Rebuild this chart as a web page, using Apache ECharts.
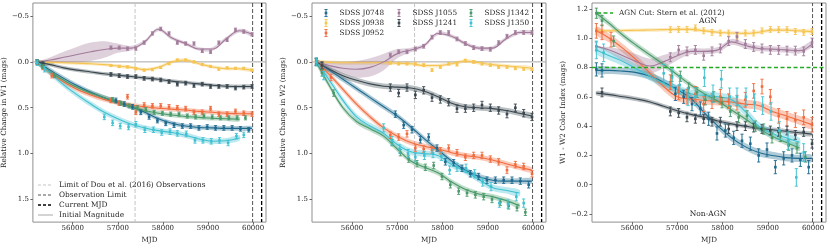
<!DOCTYPE html>
<html><head><meta charset="utf-8">
<script src="https://cdn.jsdelivr.net/npm/echarts@6/dist/echarts.min.js"></script>
<style>html,body{margin:0;padding:0;background:#fff}#c{width:830px;height:249px}</style>
</head><body><div id="c"></div>
<script>
const FONT = 'DejaVu Serif';
const NAMES = ['SDSS J0748','SDSS J0938','SDSS J0952','SDSS J1055','SDSS J1241','SDSS J1342','SDSS J1350'];
const COLORS = ['#1d6a8e','#f6c451','#f26b3d','#a27a9a','#3a474f','#4a9a69','#3fc1d1'];

// observation epochs (MJD) per object
const mjd_J0748 = [55212,55337,56958,57142,57326,57510,57694,57878,58063,58247,58431,58615,58799,58983,59168,59352,59536,59720,59904];
const mjd_J0938 = [55212,56847,57031,57215,57400,57584,57768,57952,58136,58320,58505,58689,58873,59057,59241,59425,59610,59794,59978];
const mjd_J0952 = [55212,55337,55536,56847,57031,57215,57400,57584,57768,57952,58136,58320,58505,58689,58873,59057,59241,59425,59610,59794,59978];
const mjd_J1055 = [55212,56847,57031,57215,57400,57584,57768,57952,58136,58320,58505,58689,58873,59057,59241,59425,59610,59794,59978];
const mjd_J1241 = [55212,55337,56847,57031,57215,57400,57584,57768,57952,58136,58320,58505,58689,58873,59057,59241,59425,59610,59794,59978];
const mjd_J1342 = [55212,55337,55595,56884,57068,57252,57436,57621,57805,57989,58173,58357,58541,58726,58910,59094,59278,59462,59646,59831];
const mjd_J1350 = [55212,55374,56700,56884,57053,57238,57400,57599,57790,57974,58158,58320,58519,58711,58888,59072,59256,59447,59631,59794];

// Relative change in W1
const w1_J0748 = [0.0,0.03,0.42,0.46,0.49,0.55,0.60,0.64,0.67,0.69,0.70,0.70,0.72,0.71,0.72,0.72,0.72,0.73,0.74];
const w1_J0938 = [0.0,0.04,0.05,0.055,0.075,0.09,0.085,0.06,0.02,-0.02,-0.02,0.0,0.03,0.05,0.08,0.065,0.07,0.07,0.09];
const w1_J0952 = [0.0,0.06,0.15,0.42,0.45,0.38,0.55,0.47,0.48,0.48,0.49,0.50,0.51,0.55,0.55,0.51,0.57,0.57,0.54,0.56,0.57];
const w1_J1055 = [0.0,-0.155,-0.155,-0.145,-0.145,-0.21,-0.31,-0.36,-0.31,-0.21,-0.2,-0.2,-0.12,-0.11,-0.21,-0.24,-0.35,-0.33,-0.3];
const w1_J1241 = [0.0,0.02,0.137,0.15,0.16,0.16,0.18,0.187,0.197,0.215,0.243,0.232,0.257,0.243,0.268,0.268,0.268,0.285,0.275,0.268];
const w1_J1342 = [0.0,0.05,0.15,0.41,0.45,0.48,0.50,0.52,0.55,0.56,0.57,0.57,0.59,0.60,0.59,0.60,0.61,0.61,0.61,0.61];
const w1_J1350 = [0.01,0.08,0.60,0.665,0.70,0.71,0.68,0.74,0.74,0.77,0.76,0.78,0.785,0.856,0.856,0.866,0.856,0.884,0.81,0.796];

// Relative change in W2
const w2_J0748 = [0.0,0.04,0.57,0.69,0.74,0.85,0.82,0.94,1.09,1.10,1.16,1.22,1.25,1.29,1.29,1.29,1.29,1.30,1.34];
const w2_J0938 = [0.0,0.01,0.02,0.02,0.02,0.035,0.09,0.056,0.02,0.03,-0.014,0.0,0.02,0.035,0.056,0.056,0.07,0.077,0.08];
const w2_J0952 = [0.0,0.06,0.17,0.80,0.82,0.785,0.94,0.95,0.96,0.97,0.94,0.99,1.04,1.02,1.02,1.06,1.09,1.18,1.12,1.14,1.22];
const w2_J1055 = [0.0,-0.074,-0.11,-0.11,-0.14,-0.17,-0.27,-0.32,-0.32,-0.25,-0.2,-0.155,-0.145,-0.137,-0.21,-0.28,-0.32,-0.32,-0.32];
const w2_J1241 = [0.0,0.04,0.28,0.34,0.28,0.36,0.31,0.39,0.41,0.44,0.51,0.51,0.50,0.47,0.50,0.53,0.57,0.50,0.56,0.60];
const w2_J1342 = [0.0,0.12,0.34,0.88,0.99,1.06,1.11,1.15,1.13,1.25,1.34,1.41,1.43,1.45,1.47,1.50,1.53,1.57,1.59,1.64];
const w2_J1350 = [0.0,0.15,0.72,0.86,0.95,1.00,1.04,1.02,1.00,1.03,1.18,1.15,1.16,1.22,1.31,1.36,1.54,1.55,1.47,1.54];

// W1 - W2 colour index
const c_J0748 = [0.787,0.78,0.62,0.60,0.55,0.52,0.45,0.35,0.37,0.32,0.30,0.28,0.20,0.24,0.12,0.18,0.20,0.17,0.12];
const c_J0938 = [1.047,1.058,1.06,1.06,1.07,1.05,1.04,1.035,1.035,1.015,1.035,1.035,1.05,1.06,1.058,1.058,1.045,1.04,1.045];
const c_J0952 = [1.05,1.04,0.99,0.70,0.63,0.60,0.62,0.55,0.57,0.60,0.57,0.56,0.58,0.64,0.67,0.60,0.47,0.45,0.44,0.46,0.41];
const c_J1055 = [0.944,0.87,0.92,0.91,0.92,0.88,0.91,0.93,0.98,1.01,0.96,0.94,0.93,0.92,0.92,0.915,0.915,0.91,0.97];
const c_J1241 = [null,0.63,0.50,0.49,0.46,0.45,0.45,0.43,0.43,0.38,0.40,0.40,0.39,0.38,0.37,0.36,0.37,0.34,0.36,0.28];
const c_J1342 = [1.17,1.12,0.98,0.74,0.74,0.66,0.63,0.58,0.60,0.56,0.50,0.46,0.47,0.40,0.38,0.32,0.33,0.27,0.25,0.19];
const c_J1350 = [0.92,0.90,0.76,0.73,0.68,0.60,0.60,0.73,0.62,0.72,0.60,0.60,0.60,0.56,0.54,0.50,0.37,0.30,0.05,0.22];

// measurement uncertainties (per object)
const errW1 = [0.025,0.012,0.025,0.018,0.02,0.022,0.03];
const errW2 = [0.035,0.015,0.035,0.02,0.04,0.035,0.045];
const errC  = [0.045,0.02,0.05,0.03,0.03,0.035,0.06];

// fitted trend (read at these MJD nodes)
const FIT_MJD = [55212,55500,55800,56100,56400,56700,57000,57300,57600,57900,58200,58500,58800,59100,59400,59700,59975];
const f1_J0748 = [0,0.09,0.18,0.26,0.33,0.39,0.44,0.49,0.55,0.62,0.67,0.70,0.715,0.72,0.725,0.725,0.725];
const f1_J0938 = [0,0.005,0.01,0.015,0.02,0.03,0.045,0.06,0.085,0.06,0.0,-0.02,0.02,0.055,0.074,0.075,0.09];
const f1_J0952 = [0,0.12,0.22,0.30,0.36,0.41,0.445,0.47,0.49,0.505,0.515,0.525,0.54,0.55,0.56,0.565,0.565];
const f1_J1055 = [0,-0.02,-0.05,-0.08,-0.11,-0.135,-0.15,-0.15,-0.22,-0.355,-0.26,-0.2,-0.14,-0.14,-0.25,-0.34,-0.3];
const f1_J1241 = [0,0.03,0.065,0.09,0.11,0.13,0.145,0.16,0.175,0.19,0.21,0.225,0.24,0.255,0.265,0.268,0.268];
const f1_J1342 = [0,0.11,0.2,0.28,0.34,0.39,0.44,0.49,0.53,0.56,0.58,0.595,0.605,0.615,0.62,0.625,null];
const f1_J1350 = [0,0.12,0.25,0.36,0.46,0.55,0.62,0.68,0.72,0.75,0.77,0.8,0.84,0.865,0.86,0.83,null];

const f2_J0748 = [0,0.09,0.19,0.29,0.39,0.49,0.59,0.71,0.84,0.96,1.08,1.18,1.25,1.29,1.30,1.30,1.30];
const f2_J0938 = [0,0.005,0.01,0.01,0.01,0.01,0.015,0.02,0.04,0.04,0.02,-0.01,0.01,0.03,0.045,0.055,0.07];
const f2_J0952 = [0,0.14,0.30,0.46,0.60,0.72,0.81,0.88,0.92,0.95,0.99,1.02,1.04,1.07,1.11,1.15,1.18];
const f2_J1055 = [0,0.04,0.07,0.08,0.06,0.0,-0.09,-0.13,-0.18,-0.31,-0.28,-0.2,-0.15,-0.15,-0.25,-0.32,-0.32];
const f2_J1241 = [0,0.08,0.15,0.2,0.24,0.265,0.275,0.285,0.32,0.38,0.45,0.49,0.5,0.51,0.53,0.56,0.59];
const f2_J1342 = [0,0.26,0.5,0.65,0.73,0.81,0.95,1.08,1.15,1.21,1.31,1.39,1.44,1.47,1.51,1.57,null];
const f2_J1350 = [0,0.2,0.42,0.6,0.7,0.78,0.9,0.98,1.0,1.02,1.12,1.19,1.28,1.37,1.40,1.43,null];

const fc_J0748 = [0.78,0.78,0.775,0.765,0.74,0.70,0.65,0.59,0.49,0.40,0.32,0.26,0.22,0.20,0.185,0.18,0.18];
const fc_J0938 = [1.05,1.05,1.052,1.054,1.056,1.058,1.06,1.06,1.05,1.04,1.035,1.033,1.04,1.055,1.055,1.05,1.045];
const fc_J0952 = [1.05,1.0,0.93,0.85,0.76,0.67,0.60,0.585,0.575,0.57,0.565,0.55,0.54,0.50,0.47,0.44,0.41];
const fc_J1055 = [0.944,0.92,0.88,0.84,0.81,0.84,0.88,0.91,0.91,0.92,0.975,0.95,0.93,0.925,0.92,0.915,0.96];
const fc_J1241 = [0.625,0.615,0.6,0.585,0.565,0.535,0.505,0.48,0.46,0.435,0.415,0.4,0.385,0.375,0.365,0.355,0.345];
const fc_J1342 = [1.17,1.1,1.02,0.95,0.885,0.82,0.75,0.68,0.62,0.57,0.51,0.45,0.385,0.33,0.29,0.25,null];
const fc_J1350 = [0.92,0.88,0.84,0.79,0.74,0.69,0.65,0.62,0.61,0.60,0.58,0.5,0.4,0.35,0.32,0.29,null];

// fit uncertainty half-widths
const bandW1 = [0.025,0.018,0.025,0.02,0.02,0.025,0.03];
const bandW2 = [0.03,0.02,0.03,0.02,0.03,0.03,0.035];
const bandC  = [0.025,0.012,0.03,0.02,0.015,0.02,0.03];
const band1055_W1 = [0,0.03,0.06,0.085,0.1,0.09,0.05,0.025,0.02,0.02,0.02,0.02,0.02,0.02,0.02,0.02,0.02];
const band1055_W2 = [0,0.03,0.06,0.09,0.1,0.09,0.05,0.025,0.02,0.02,0.02,0.02,0.02,0.02,0.02,0.02,0.02];
const band1055_C  = [0,0.02,0.04,0.05,0.05,0.045,0.03,0.02,0.02,0.02,0.02,0.02,0.02,0.02,0.02,0.02,0.02];

// reference markers
const DOU_LIMIT = 57383, OBS_LIMIT = 59990, CURRENT_MJD = 60190, INITIAL_MAG = 0, AGN_CUT = 0.8;
const X_RANGE = [55116, 60287];
const Y_RANGE_W = [-0.642, 1.747];
const Y_RANGE_C = [-0.255, 1.240];

const EPOCHS = [mjd_J0748,mjd_J0938,mjd_J0952,mjd_J1055,mjd_J1241,mjd_J1342,mjd_J1350];
const PANELS = [
  {vals:[w1_J0748,w1_J0938,w1_J0952,w1_J1055,w1_J1241,w1_J1342,w1_J1350], fits:[f1_J0748,f1_J0938,f1_J0952,f1_J1055,f1_J1241,f1_J1342,f1_J1350], err:errW1, band:bandW1, band1055:band1055_W1, yr:Y_RANGE_W, inv:true, name:'Relative Change in W1 (mags)'},
  {vals:[w2_J0748,w2_J0938,w2_J0952,w2_J1055,w2_J1241,w2_J1342,w2_J1350], fits:[f2_J0748,f2_J0938,f2_J0952,f2_J1055,f2_J1241,f2_J1342,f2_J1350], err:errW2, band:bandW2, band1055:band1055_W2, yr:Y_RANGE_W, inv:true, name:'Relative Change in W2 (mags)'},
  {vals:[c_J0748,c_J0938,c_J0952,c_J1055,c_J1241,c_J1342,c_J1350], fits:[fc_J0748,fc_J0938,fc_J0952,fc_J1055,fc_J1241,fc_J1342,fc_J1350], err:errC, band:bandC, band1055:band1055_C, yr:Y_RANGE_C, inv:false, name:'W1 - W2 Color Index (mags)'}
];

function rgba(hex, a){const n=parseInt(hex.slice(1),16);return `rgba(${n>>16},${(n>>8)&255},${n&255},${a})`;}
const TXT = '#262626';
const AGN_COLOR = '#22aa22';
const LEFTS = [32, 312, 592];

const grid = LEFTS.map(l => ({left:l, top:3, width:234, height:225, show:true, borderColor:'#8f8f8f', borderWidth:1, containLabel:false}));
const xAxis = LEFTS.map((l,i) => ({
  type:'value', gridIndex:i, min:X_RANGE[0], max:X_RANGE[1], splitNumber:5, position:'bottom',
  name:'MJD', nameLocation:'middle', nameGap:10, nameTextStyle:{fontFamily:FONT, fontSize:7.2, color:TXT},
  axisLine:{show:false, onZero:false}, splitLine:{show:false},
  axisTick:{show:true, length:2.5, lineStyle:{color:'#666'}},
  axisLabel:{fontFamily:FONT, fontSize:7, color:TXT, margin:3, showMinLabel:false, showMaxLabel:false, formatter:v=>String(Math.round(v))}
}));
const yAxis = PANELS.map((p,i) => ({
  type:'value', gridIndex:i, min:p.yr[0], max:p.yr[1], inverse:p.inv, splitNumber: i===2?7:5, position:'left',
  name:p.name, nameLocation:'middle', nameGap:22, nameRotate:90,
  nameTextStyle:{fontFamily:FONT, fontSize:7.2, color:TXT},
  axisLine:{show:false, onZero:false}, splitLine:{show:false},
  axisTick:{show:true, length:2.5, lineStyle:{color:'#666'}},
  axisLabel:{fontFamily:FONT, fontSize:7, color:TXT, margin:4, showMinLabel:false, showMaxLabel:false,
    formatter:v=>{const r=Math.round(v*10)/10; return (r<0?'\u2212':'')+Math.abs(r).toFixed(1);}}
}));

const series = [];
// reference line drawn through the axes' own scales
function refLine(p, p0, p1, color, width, dash, z){
  series.push({type:'custom', xAxisIndex:p, yAxisIndex:p, z:z||1, silent:true, animation:false,
    data:[[p0[0], p0[1], p1[0], p1[1]]],
    renderItem:(params, api) => {
      const a = api.coord([api.value(0), api.value(1)]), b = api.coord([api.value(2), api.value(3)]);
      return {type:'line', shape:{x1:a[0], y1:a[1], x2:b[0], y2:b[1]},
        style:{stroke:color, lineWidth:width, lineDash:dash}};
    }});
}
PANELS.forEach((P, p) => {
  if (p < 2) {
    refLine(p, [X_RANGE[0],INITIAL_MAG], [X_RANGE[1],INITIAL_MAG], '#a8a8a8', 1, null);
    refLine(p, [DOU_LIMIT,P.yr[0]], [DOU_LIMIT,P.yr[1]], '#c4c4c4', 1, [4,2]);
  } else {
    refLine(p, [X_RANGE[0],AGN_CUT], [X_RANGE[1],AGN_CUT], AGN_COLOR, 1.5, [4,2.5], 5);
  }
  refLine(p, [OBS_LIMIT,P.yr[0]], [OBS_LIMIT,P.yr[1]], '#555555', 1, [4,2]);
  refLine(p, [CURRENT_MJD,P.yr[0]], [CURRENT_MJD,P.yr[1]], '#000000', 1.3, [4,2]);

  for (let k = 0; k < 7; k++) {
    const fit = P.fits[k];
    const hw = i => (k === 3 ? P.band1055[i] : P.band[k]);
    const col = COLORS[k];
    series.push({type:'custom', xAxisIndex:p, yAxisIndex:p, z:2, silent:true, animation:false,
      data:[[FIT_MJD[0], fit[0]]],
      renderItem:(params, api) => {
        const up=[], lo=[];
        FIT_MJD.forEach((x,i) => { if (fit[i]==null) return; const h=hw(i);
          up.push(api.coord([x, fit[i]-h])); lo.push(api.coord([x, fit[i]+h])); });
        return {type:'polygon', shape:{points:up.concat(lo.reverse()), smooth:0.3}, style:{fill:rgba(col,0.35)}};
      }});
    series.push({type:'line', xAxisIndex:p, yAxisIndex:p, z:3, silent:true, animation:false,
      data:FIT_MJD.map((x,i)=>[x,fit[i]]).filter(d=>d[1]!=null), smooth:0.4, symbol:'none',
      color:col, lineStyle:{color:col, width:1.1}});
    const vals = P.vals[k], e = P.err[k];
    series.push({type:'custom', xAxisIndex:p, yAxisIndex:p, z:4, silent:true, animation:false,
      data:EPOCHS[k].map((x,i)=>[x, vals[i], e]).filter(d=>d[1]!=null),
      encode:{x:0, y:1},
      renderItem:(params, api) => {
        const x=api.value(0), y=api.value(1), er=api.value(2);
        const c=api.coord([x,y]), a=api.coord([x,y-er]), b=api.coord([x,y+er]);
        return {type:'group', children:[
          {type:'line', shape:{x1:c[0],y1:a[1],x2:c[0],y2:b[1]}, style:{stroke:col, lineWidth:1}},
          {type:'line', shape:{x1:c[0]-1.6,y1:a[1],x2:c[0]+1.6,y2:a[1]}, style:{stroke:col, lineWidth:0.9}},
          {type:'line', shape:{x1:c[0]-1.6,y1:b[1],x2:c[0]+1.6,y2:b[1]}, style:{stroke:col, lineWidth:0.9}},
          {type:'rect', shape:{x:c[0]-1.3,y:c[1]-1.3,width:2.6,height:2.6}, style:{fill:col}}
        ]};
      }});
  }
});

// legends as graphics
const g = [];
const txt = (x,y,s,size,align) => g.push({type:'text', x, y, style:{text:s, fontFamily:FONT, fontSize:size||7, fill:TXT, textAlign:align||'left', textVerticalAlign:'middle'}, z:100});
const seg = (x1,y,x2,color,w,dash) => g.push({type:'line', shape:{x1,y1:y,x2,y2:y}, style:{stroke:color, lineWidth:w, lineDash:dash||null}, z:100});
// panel 1 legend
[['Limit of Dou et al. (2016) Observations','#c4c4c4',1,[3,2]],['Observation Limit','#555555',1,[3,2]],['Current MJD','#000000',1.3,[3,2]],['Initial Magnitude','#a8a8a8',1,null]]
  .forEach((it,i) => { const y = 185 + i*10; seg(38,y,53,it[1],it[2],it[3]); txt(59,y,it[0],7.4); });
// panel 2 legend
const LEG_POS = [[326,13],[326,23],[326,33],[399,13],[399,23],[471,13],[471,23]];
NAMES.forEach((n,k) => {
  const [x,y] = LEG_POS[k], col = COLORS[k];
  g.push({type:'line', shape:{x1:x,y1:y-3.5,x2:x,y2:y+3.5}, style:{stroke:col,lineWidth:1}, z:100});
  g.push({type:'line', shape:{x1:x-1.6,y1:y-3.5,x2:x+1.6,y2:y-3.5}, style:{stroke:col,lineWidth:0.9}, z:100});
  g.push({type:'line', shape:{x1:x-1.6,y1:y+3.5,x2:x+1.6,y2:y+3.5}, style:{stroke:col,lineWidth:0.9}, z:100});
  g.push({type:'rect', shape:{x:x-1.3,y:y-1.3,width:2.6,height:2.6}, style:{fill:col}, z:100});
  txt(x+13.5, y, n, 7.3);
});
// panel 3 legend and labels
seg(597,13,613,AGN_COLOR,1.5,[4,2.5]);
txt(619,13,'AGN Cut: Stern et al. (2012)',7.3);
txt(708,21,'AGN',7.5,'center');
txt(708,214,'Non-AGN',7.5,'center');

const chart = echarts.init(document.getElementById('c'), null, {renderer:'canvas'});
chart.setOption({animation:false, backgroundColor:'#fff', grid, xAxis, yAxis, series, graphic:g});
</script></body></html>
